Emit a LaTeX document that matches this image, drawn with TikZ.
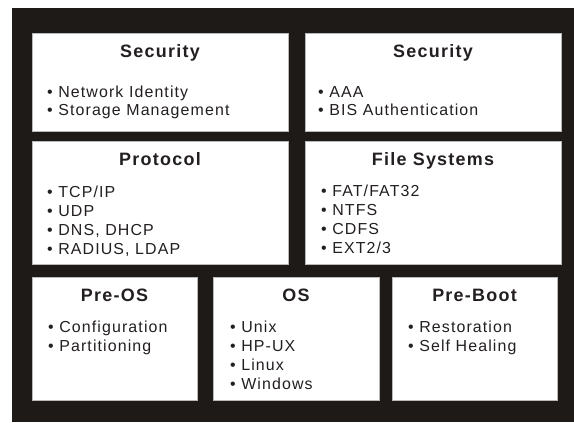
\documentclass[tikz,border=0pt]{standalone}
\usepackage{fontspec}
\usepackage{tikz}
\newfontfamily\panelfont[LetterSpace=7]{Liberation Sans}
\definecolor{boardblack}{RGB}{30,26,23}
\definecolor{inkblack}{RGB}{35,31,32}

\begin{document}
\begin{tikzpicture}[x=1bp, y=-1bp,
	panel/.style={draw=gray!55, line width=0.6bp, fill=white, inner sep=0pt, outer sep=0pt, anchor=north west},
	heading/.style={anchor=base, inner sep=0pt, text=inkblack, font=\panelfont\bfseries\fontsize{18}{20}\selectfont},
	entry/.style={anchor=base west, inner sep=0pt, text=inkblack, font=\panelfont\fontsize{16}{19}\selectfont}]
	\useasboundingbox (0,0) rectangle (574,422);
	% Hintergrund
	\fill[boardblack] (12,8) rectangle (574,422);
	% Felder
	\node[panel, minimum width=256bp, minimum height=98bp]  (sec1) at (32,33) {};
	\node[panel, minimum width=256bp, minimum height=98bp]  (sec2) at (305,33) {};
	\node[panel, minimum width=256bp, minimum height=123bp] (proto) at (32,141) {};
	\node[panel, minimum width=256bp, minimum height=123bp] (files) at (305,141) {};
	\node[panel, minimum width=165bp, minimum height=123bp] (preos) at (32,277) {};
	\node[panel, minimum width=166bp, minimum height=123bp] (os) at (213,277) {};
	\node[panel, minimum width=165bp, minimum height=123bp] (preboot) at (392,277) {};
	% Ueberschriften
	\node[heading] (sec1-title)    at ([yshift=-24bp]sec1.north)    {Security};
	\node[heading] (sec2-title)    at ([yshift=-24bp]sec2.north)    {Security};
	\node[heading] (proto-title)   at ([yshift=-24bp]proto.north)   {Protocol};
	\node[heading] (files-title)   at ([yshift=-24bp]files.north)   {File Systems};
	\node[heading] (preos-title)   at ([yshift=-24bp]preos.north)   {Pre-OS};
	\node[heading] (os-title)      at ([yshift=-24bp]os.north)      {OS};
	\node[heading] (preboot-title) at ([yshift=-24bp]preboot.north) {Pre-Boot};
	% Listen
	\foreach \t [count=\i] in {Network Identity, Storage Management}
		\node[entry] (sec1-\i) at ([shift={(15,{64+18.5*(\i-1)})}]sec1.north west) {\textbullet\ \t};
	\foreach \t [count=\i] in {AAA, BIS Authentication}
		\node[entry] (sec2-\i) at ([shift={(13,{64+18.5*(\i-1)})}]sec2.north west) {\textbullet\ \t};
	\foreach \t [count=\i] in {TCP/IP, UDP, {DNS, DHCP}, {RADIUS, LDAP}}
		\node[entry] (proto-\i) at ([shift={(15,{56+19*(\i-1)})}]proto.north west) {\textbullet\ \t};
	\foreach \t [count=\i] in {FAT/FAT32, NTFS, CDFS, EXT2/3}
		\node[entry] (files-\i) at ([shift={(16,{55+19*(\i-1)})}]files.north west) {\textbullet\ \t};
	\foreach \t [count=\i] in {Configuration, Partitioning}
		\node[entry] (preos-\i) at ([shift={(16,{55+19.3*(\i-1)})}]preos.north west) {\textbullet\ \t};
	\foreach \t [count=\i] in {Unix, HP-UX, Linux, Windows}
		\node[entry] (os-\i) at ([shift={(17,{55+19.3*(\i-1)})}]os.north west) {\textbullet\ \t};
	\foreach \t [count=\i] in {Restoration, Self Healing}
		\node[entry] (preboot-\i) at ([shift={(16,{55+19.3*(\i-1)})}]preboot.north west) {\textbullet\ \t};
\end{tikzpicture}
\end{document}
